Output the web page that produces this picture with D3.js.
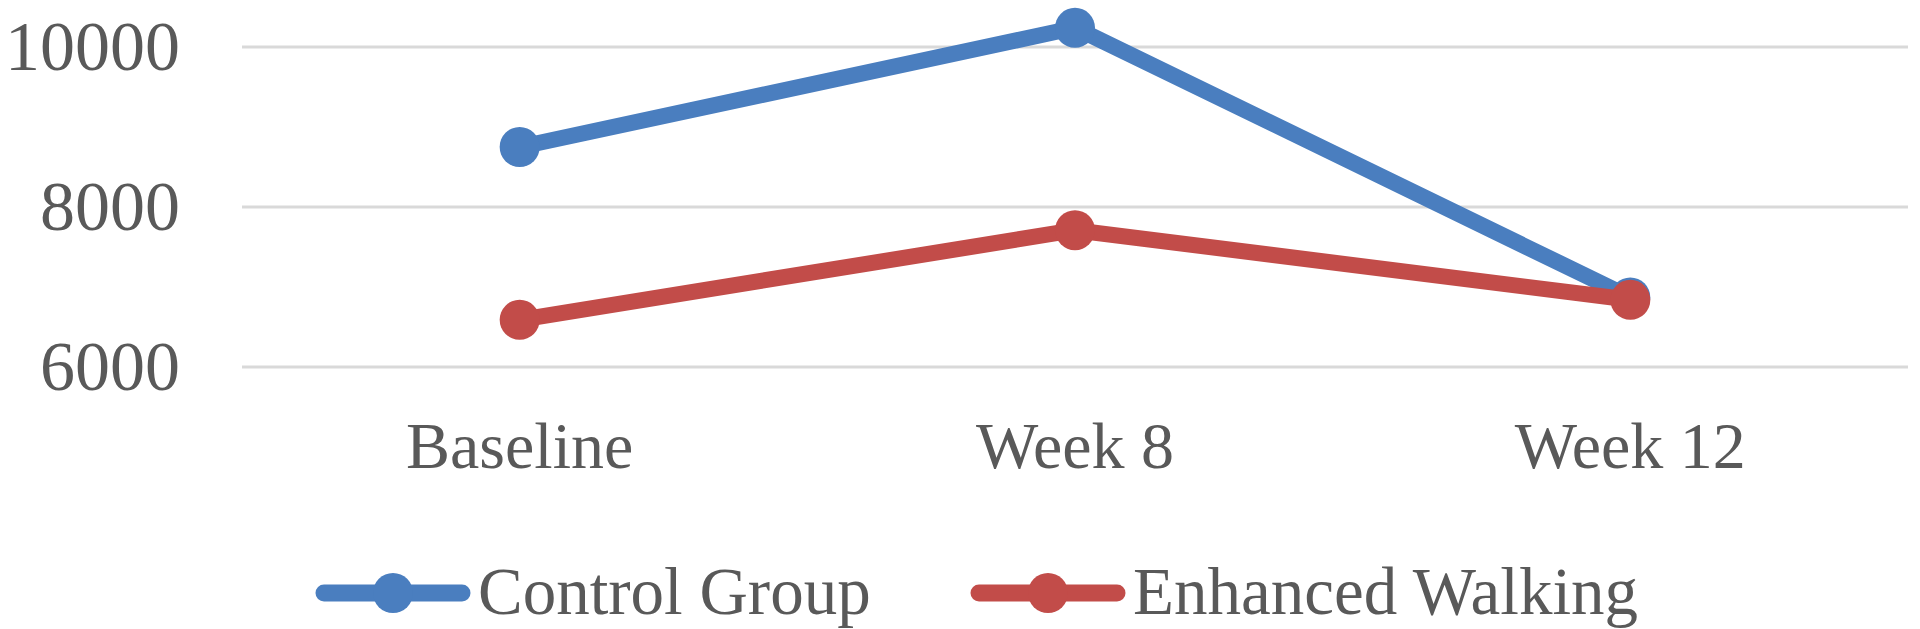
<!DOCTYPE html>
<html>
<head>
<meta charset="utf-8">
<script src="https://cdn.jsdelivr.net/npm/d3@7"></script>
<style>
  html, body { margin: 0; padding: 0; background: #fff; }
  svg { display: block; }
</style>
</head>
<body>
<div id="chart"></div>
<script>
// chart data
const categories = ["Baseline", "Week 8", "Week 12"];
const controlGroup = [8750, 10240, 6870];
const enhancedWalking = [6590, 7710, 6840];
const yTicks = [6000, 8000, 10000];

const seriesNames = ["Control Group", "Enhanced Walking"];
const seriesColors = ["#4a7ebf", "#c24c49"];

const width = 1920, height = 629;
const plotLeft = 242, plotRight = 1908;

const svg = d3.select("#chart").append("svg")
    .attr("width", width)
    .attr("height", height);

const x = d3.scaleBand()
    .domain(categories)
    .range([plotLeft, plotRight]);

const y = d3.scaleLinear()
    .domain([6000, 10000])
    .range([367, 47]);

const font = "'Liberation Serif', 'DejaVu Serif', serif";
const textColor = "#595959";

// gridlines
svg.append("g")
    .selectAll("line")
    .data(yTicks)
    .join("line")
    .attr("x1", plotLeft)
    .attr("x2", plotRight)
    .attr("y1", d => y(d))
    .attr("y2", d => y(d))
    .attr("stroke", "#d9d9d9")
    .attr("stroke-width", 3);

// y labels
svg.append("g")
    .selectAll("text")
    .data(yTicks)
    .join("text")
    .attr("x", 180)
    .attr("y", d => y(d) + 23)
    .attr("text-anchor", "end")
    .attr("font-family", font)
    .attr("font-size", "70px")
    .attr("fill", textColor)
    .text(d => d);

// category labels
svg.append("g")
    .selectAll("text")
    .data(categories)
    .join("text")
    .attr("x", d => x(d) + x.bandwidth() / 2)
    .attr("y", 468)
    .attr("text-anchor", "middle")
    .attr("font-family", font)
    .attr("font-size", "66px")
    .attr("fill", textColor)
    .text(d => d);

const allSeries = [controlGroup, enhancedWalking];

const line = d3.line()
    .x((d, i) => x(categories[i]) + x.bandwidth() / 2)
    .y(d => y(d));

allSeries.forEach((values, s) => {
    const g = svg.append("g");
    g.append("path")
        .datum(values)
        .attr("d", line)
        .attr("fill", "none")
        .attr("stroke", seriesColors[s])
        .attr("stroke-width", 16)
        .attr("stroke-linejoin", "round")
        .attr("stroke-linecap", "round");
    g.selectAll("circle")
        .data(values)
        .join("circle")
        .attr("cx", (d, i) => x(categories[i]) + x.bandwidth() / 2)
        .attr("cy", d => y(d))
        .attr("r", 20)
        .attr("fill", seriesColors[s]);
});

// legend
const legendX = [316, 971];
const legendY = 593;
seriesNames.forEach((name, s) => {
    const g = svg.append("g").attr("transform", `translate(${legendX[s]},${legendY})`);
    g.append("line")
        .attr("x1", 8).attr("x2", 146)
        .attr("y1", 0).attr("y2", 0)
        .attr("stroke", seriesColors[s])
        .attr("stroke-width", 17)
        .attr("stroke-linecap", "round");
    g.append("circle")
        .attr("cx", 77).attr("cy", 0)
        .attr("r", 20)
        .attr("fill", seriesColors[s]);
    g.append("text")
        .attr("x", 162)
        .attr("y", 21)
        .attr("font-family", font)
        .attr("font-size", "67px")
        .attr("fill", textColor)
        .text(name);
});
</script>
</body>
</html>
